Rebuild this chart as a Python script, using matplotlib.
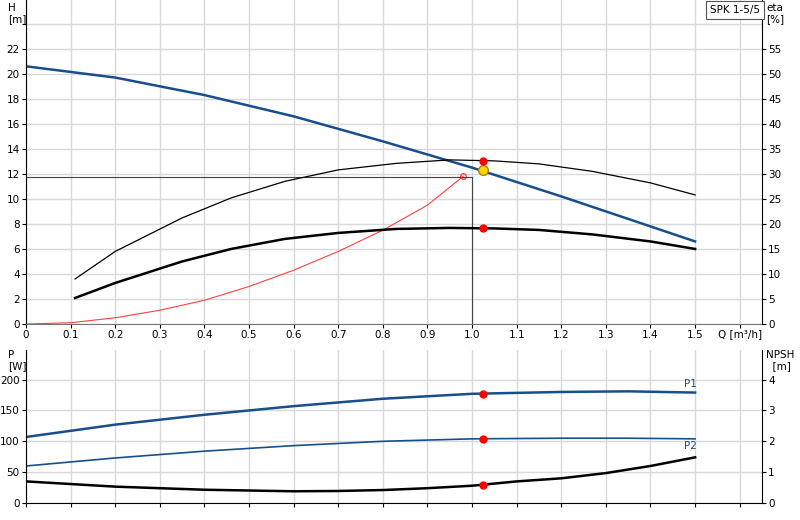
import matplotlib
matplotlib.use("Agg")
import matplotlib.pyplot as plt
import numpy as np

q_h = [0, 0.2, 0.4, 0.6, 0.8, 1.0, 1.2, 1.4, 1.5]
h = [20.6, 19.7, 18.3, 16.6, 14.6, 12.5, 10.2, 7.8, 6.6]
q_e = [0.11, 0.2, 0.35, 0.46, 0.58, 0.7, 0.83, 0.95, 1.05, 1.15, 1.27, 1.4, 1.5]
eta1 = [9.0, 14.5, 21.2, 25.2, 28.5, 30.8, 32.1, 32.8, 32.6, 32.0, 30.5, 28.2, 25.8]
eta2 = [5.2, 8.2, 12.5, 15.0, 17.0, 18.2, 19.0, 19.2, 19.1, 18.8, 17.9, 16.5, 15.0]
q_s = [0, 0.1, 0.2, 0.3, 0.4, 0.5, 0.6, 0.7, 0.8, 0.9, 0.98]
h_s = [0, 0.1, 0.5, 1.1, 1.9, 3.0, 4.3, 5.8, 7.5, 9.5, 11.8]
q_p = [0, 0.2, 0.4, 0.6, 0.8, 1.0, 1.2, 1.35, 1.5]
p1 = [107, 127, 143, 157, 169, 177, 180, 181, 179]
p2 = [60, 73, 84, 93, 100, 104, 105, 105, 104]
q_n = [0, 0.2, 0.4, 0.6, 0.7, 0.8, 0.9, 1.0, 1.1, 1.2, 1.3, 1.4, 1.5]
npsh = [0.7, 0.53, 0.43, 0.38, 0.39, 0.42, 0.48, 0.56, 0.7, 0.8, 0.97, 1.2, 1.48]
q_duty = 1.025
h_duty = 12.3
q_op, h_op = 1.0, 11.75

blue = "#174f8c"
grid = "#d9d9d9"
fs = 7.5
fig = plt.figure(figsize=(8, 5.2), dpi=100)
ax = fig.add_axes([26/800, 196/520, 736/800, 324/520])
ax.set_xlim(0, 1.65)
ax.set_ylim(0, 25.9)
ax.set_xticks(np.arange(0, 1.61, 0.1))
ax.set_xticklabels([f"{v:.1f}" if v > 0 else "0" for v in np.arange(0, 1.51, 0.1)] + [""])
ax.set_yticks(np.arange(0, 25, 2))
ax.set_yticklabels([str(v) for v in range(0, 23, 2)] + [""])
ax.grid(True, color=grid, lw=1)
ax.set_axisbelow(True)
for s in ["top", "right"]:
    ax.spines[s].set_visible(False)
ax.spines["left"].set_linewidth(0.8)
ax.spines["bottom"].set_color("#777777")
ax.tick_params(labelsize=fs, length=3, pad=1.5)
ax.plot(q_h, h, color=blue, lw=1.8)
ax.plot(q_s, h_s, color="#ff4040", lw=0.8)
ax.plot([q_s[-1]], [h_s[-1]], "o", mfc="none", mec="#ff4040", ms=4)
ax.plot([0, q_op], [h_op, h_op], color="#444444", lw=0.8)
ax.plot([q_op, q_op], [0, h_op], color="#444444", lw=0.8)
ax2 = ax.twinx()
ax2.set_ylim(0, 25.9 * 2.5)
ax2.set_yticks(np.arange(0, 56, 5))
ax2.spines["right"].set_linewidth(0.8)
for s in ["top", "left", "bottom"]:
    ax2.spines[s].set_visible(False)
ax2.tick_params(labelsize=fs, length=3, pad=1.5)
ax2.plot(q_e, eta1, color="black", lw=0.9)
ax2.plot(q_e, eta2, color="black", lw=1.8)
ax2.plot([q_duty], [np.interp(q_duty, q_e, eta1)], "o", color="red", ms=5)
ax2.plot([q_duty], [np.interp(q_duty, q_e, eta2)], "o", color="red", ms=5)
ax.plot([q_duty], [h_duty], "o", color="#ffd700", mec="#b08000", ms=7, zorder=5)
fig.text(8/800, 1 - 3/520, "H\n[m]", fontsize=fs, ha="left", va="top", linespacing=1.1)
fig.text(766/800, 1 - 3/520, "eta\n[%]", fontsize=fs, ha="left", va="top", linespacing=1.1)
fig.text(1.6/1.65*(736/800) + 26/800, 1 - 334/520, "Q [m³/h]", fontsize=fs, ha="center", va="center")
fig.text(710/800, 1 - 10/520, "SPK 1-5/5", fontsize=fs, ha="left", va="center",
         bbox=dict(boxstyle="square,pad=0.35", fc="white", ec="#555555", lw=0.8))

bx = fig.add_axes([26/800, 17/520, 736/800, 153/520])
bx.set_xlim(0, 1.65)
bx.set_ylim(0, 248)
bx.set_xticks(np.arange(0, 1.61, 0.1))
bx.set_xticklabels([])
bx.set_yticks([0, 50, 100, 150, 200])
bx.grid(True, color=grid, lw=1)
bx.set_axisbelow(True)
for s in ["top", "right"]:
    bx.spines[s].set_visible(False)
bx.spines["left"].set_linewidth(0.8)
bx.tick_params(labelsize=fs, length=3, pad=1.5)
bx.plot(q_p, p1, color=blue, lw=1.8)
bx.plot(q_p, p2, color=blue, lw=1.2)
bx.plot([q_duty], [np.interp(q_duty, q_p, p1)], "o", color="red", ms=5)
bx.plot([q_duty], [np.interp(q_duty, q_p, p2)], "o", color="red", ms=5)
bx.text(1.49, 184, "P1", color=blue, fontsize=fs, va="bottom", ha="center")
bx.text(1.49, 101, "P2", color=blue, fontsize=fs, va="top", ha="center")
bx2 = bx.twinx()
bx2.set_ylim(0, 248 / 50)
bx2.set_yticks([0, 1, 2, 3, 4])
bx2.spines["right"].set_linewidth(0.8)
for s in ["top", "left", "bottom"]:
    bx2.spines[s].set_visible(False)
bx2.tick_params(labelsize=fs, length=3, pad=1.5)
bx2.plot(q_n, npsh, color="black", lw=1.8)
bx2.plot([q_duty], [np.interp(q_duty, q_n, npsh)], "o", color="red", ms=5)
fig.text(8/800, 1 - 350/520, "P\n[W]", fontsize=fs, ha="left", va="top", linespacing=1.1)
fig.text(766/800, 1 - 350/520, "NPSH\n  [m]", fontsize=fs, ha="left", va="top", linespacing=1.1)
fig.savefig("out.png", dpi=100)
